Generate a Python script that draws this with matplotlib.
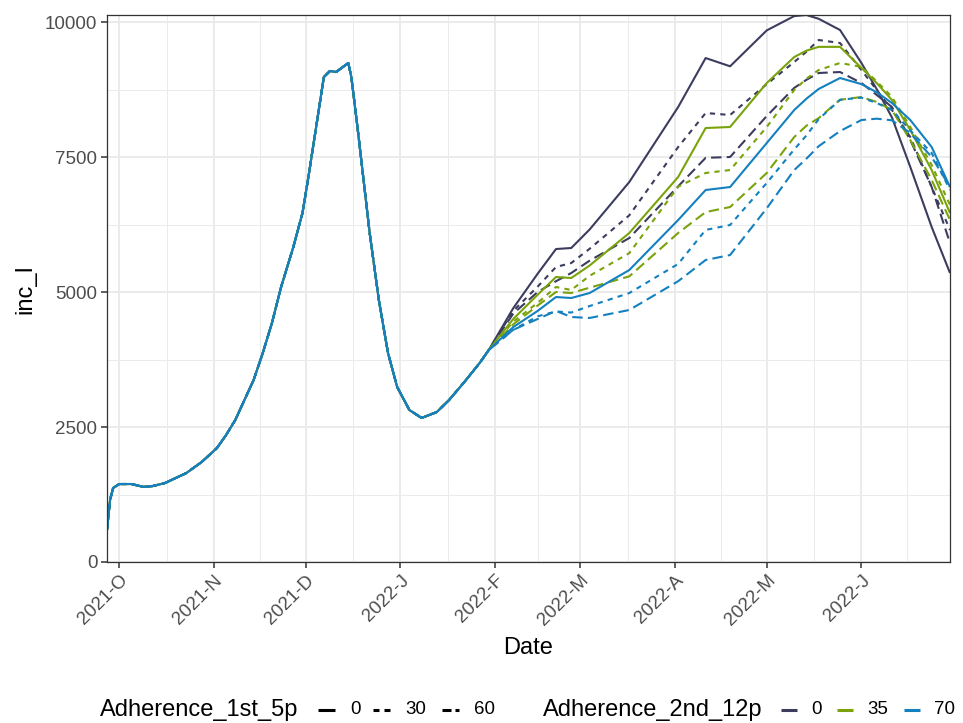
import matplotlib
matplotlib.use("Agg")
import matplotlib.pyplot as plt
import matplotlib.dates as mdates
from matplotlib.lines import Line2D
import pandas as pd

plt.rcParams['font.family'] = ['Liberation Sans', 'DejaVu Sans']

# shared history (all scenarios identical until end of January)
base_dates = ['2021-09-27', '2021-09-28', '2021-09-29', '2021-10-01', '2021-10-05',
              '2021-10-09', '2021-10-12', '2021-10-16', '2021-10-23', '2021-10-28',
              '2021-11-02', '2021-11-05', '2021-11-08', '2021-11-14', '2021-11-17',
              '2021-11-20', '2021-11-23', '2021-11-27', '2021-11-30', '2021-12-02',
              '2021-12-07', '2021-12-09', '2021-12-11', '2021-12-15', '2021-12-16',
              '2021-12-18', '2021-12-20', '2021-12-22', '2021-12-25', '2021-12-28',
              '2021-12-31', '2022-01-04', '2022-01-08', '2022-01-13', '2022-01-17',
              '2022-01-22', '2022-01-27', '2022-01-30']
base_vals = [593, 1148, 1370, 1444, 1444, 1390, 1407, 1463, 1648, 1852,
             2111, 2352, 2630, 3370, 3870, 4426, 5093, 5833, 6463, 7150,
             8981, 9093, 9074, 9241, 8981, 8056, 7074, 6093, 4852, 3870,
             3241, 2815, 2667, 2778, 3000, 3333, 3685, 3926]

# scenario dates after the split
scen_dates = ['2022-02-07', '2022-02-15', '2022-02-21', '2022-02-26', '2022-03-04',
              '2022-03-17', '2022-04-02', '2022-04-11', '2022-04-19', '2022-05-01',
              '2022-05-10', '2022-05-14', '2022-05-18', '2022-05-25', '2022-06-01',
              '2022-06-06', '2022-06-11', '2022-06-17', '2022-06-24', '2022-06-30']

# (Adherence_2nd_12p, Adherence_1st_5p) -> values
scen_0_0 = [4700, 5339, 5796, 5815, 6157, 7037, 8426, 9333, 9180, 9845,
            10110, 10130, 10060, 9852, 9241, 8757, 8232, 7315, 6204, 5352]
scen_0_30 = [4650, 5100, 5463, 5537, 5800, 6420, 7685, 8315, 8278, 8850,
             9259, 9450, 9667, 9611, 9111, 8740, 8370, 7870, 6944, 6148]
scen_0_60 = [4600, 5000, 5200, 5352, 5580, 6000, 6957, 7485, 7500, 8259,
             8780, 8930, 9056, 9074, 8870, 8650, 8426, 7815, 6944, 5907]
scen_35_0 = [4500, 4950, 5278, 5259, 5490, 6093, 7130, 8037, 8056, 8870,
             9352, 9470, 9540, 9540, 9150, 8870, 8556, 8000, 7259, 6463]
scen_35_30 = [4450, 4800, 5093, 5037, 5300, 5720, 6950, 7204, 7259, 8056,
              8741, 8950, 9111, 9241, 9170, 8900, 8611, 8056, 7352, 6611]
scen_35_60 = [4400, 4750, 5000, 4981, 5080, 5290, 6093, 6480, 6574, 7204,
              7870, 8080, 8220, 8560, 8611, 8520, 8370, 7815, 7074, 6333]
scen_70_0 = [4350, 4650, 4907, 4889, 4981, 5407, 6333, 6889, 6944, 7759,
             8370, 8580, 8760, 8963, 8850, 8700, 8500, 8185, 7685, 6944]
scen_70_30 = [4300, 4550, 4640, 4620, 4740, 4981, 5520, 6150, 6241, 7019,
              7640, 7900, 8200, 8560, 8600, 8500, 8370, 7990, 7574, 6889]
scen_70_60 = [4300, 4500, 4650, 4537, 4519, 4667, 5200, 5593, 5685, 6550,
              7259, 7470, 7700, 7980, 8185, 8210, 8180, 7944, 7500, 6944]

adh_2nd = ['0', '35', '70']
adh_1st = ['0', '30', '60']
scenarios = {
    ('0', '0'): scen_0_0, ('0', '30'): scen_0_30, ('0', '60'): scen_0_60,
    ('35', '0'): scen_35_0, ('35', '30'): scen_35_30, ('35', '60'): scen_35_60,
    ('70', '0'): scen_70_0, ('70', '30'): scen_70_30, ('70', '60'): scen_70_60,
}

colors = {'0': '#3C3D5E', '35': '#7AA30B', '70': '#1480BF'}
styles = {'0': '-', '30': (0, (2.5, 2.5)), '60': (0, (5, 2.5))}

W, H = 963, 723
fig = plt.figure(figsize=(W / 100, H / 100), dpi=100)
ax = fig.add_axes([107 / W, 1 - 562 / H, (950 - 107) / W, (562 - 15) / H])

dates = pd.to_datetime(base_dates + scen_dates)
for a2 in adh_2nd:
    for a1 in adh_1st:
        vals = base_vals + scenarios[(a2, a1)]
        ax.plot(dates, vals, color=colors[a2], linestyle=styles[a1], lw=1.5,
                solid_capstyle='butt', dash_capstyle='butt',
                solid_joinstyle='round')

# axes / theme_bw look
ax.set_xlim(pd.Timestamp('2021-09-27'), pd.Timestamp('2022-06-30'))
ax.set_ylim(0, 10130)
major = pd.to_datetime(['2021-10-01', '2021-11-01', '2021-12-01', '2022-01-01',
                        '2022-02-01', '2022-03-01', '2022-04-01', '2022-05-01',
                        '2022-06-01', '2022-07-01'])
mnum = mdates.date2num(major)
ax.set_xticks(mnum[:-1])
ax.set_xticks((mnum[:-1] + mnum[1:]) / 2, minor=True)
ax.xaxis.set_major_formatter(
    plt.FuncFormatter(lambda v, p: f"{mdates.num2date(v).year}-{mdates.num2date(v).strftime('%b')[0]}"))
ax.set_yticks([0, 2500, 5000, 7500, 10000])
ax.set_yticks([1250, 3750, 6250, 8750], minor=True)

ax.grid(which='major', color='#EBEBEB', lw=1.4)
ax.grid(which='minor', color='#EBEBEB', lw=0.7)
ax.set_axisbelow(True)
for s in ax.spines.values():
    s.set_color('#333333')
    s.set_linewidth(0.9)
ax.tick_params(which='major', length=4, width=1.1, color='#333333',
               labelcolor='#4D4D4D', labelsize=13.5, pad=3)
ax.tick_params(which='minor', length=0)
for lab in ax.get_xticklabels():
    lab.set_rotation(45)
    lab.set_ha('right')
    lab.set_va('top')
    lab.set_rotation_mode('anchor')

ax.set_xlabel('Date', fontsize=17)
ax.set_ylabel('inc_I', fontsize=17)
ax.xaxis.set_label_coords(0.5, (562 - 648) / 547)
ax.yaxis.set_label_coords((25 - 107) / 843, 0.5)
ax.xaxis.label.set_va('center')
ax.yaxis.label.set_va('center')

# bottom legends
ly = 1 - 710 / H


def fx(px):
    return px / W


fig.text(fx(100), ly, 'Adherence_1st_5p', fontsize=17, va='center', ha='left')
keys1 = [(318, '0', '-'), (373, '30', (0, (1.96, 1.64))), (442, '60', (0, (2.95, 1.3)))]
for x0, lab, ls in keys1:
    fig.add_artist(Line2D([fx(x0), fx(x0 + 17)], [ly, ly], color='black', lw=2.2,
                          linestyle=ls, dash_capstyle='butt', solid_capstyle='butt'))
    fig.text(fx(x0 + 32), ly, lab, fontsize=13.5, va='center', ha='left')

fig.text(fx(543), ly, 'Adherence_2nd_12p', fontsize=17, va='center', ha='left')
keys2 = [(781, '0'), (837, '35'), (904, '70')]
for x0, lab in keys2:
    fig.add_artist(Line2D([fx(x0), fx(x0 + 16)], [ly, ly], color=colors[lab], lw=2.2,
                          solid_capstyle='butt'))
    fig.text(fx(x0 + 30), ly, lab, fontsize=13.5, va='center', ha='left')

fig.savefig('out.png', dpi=100)
